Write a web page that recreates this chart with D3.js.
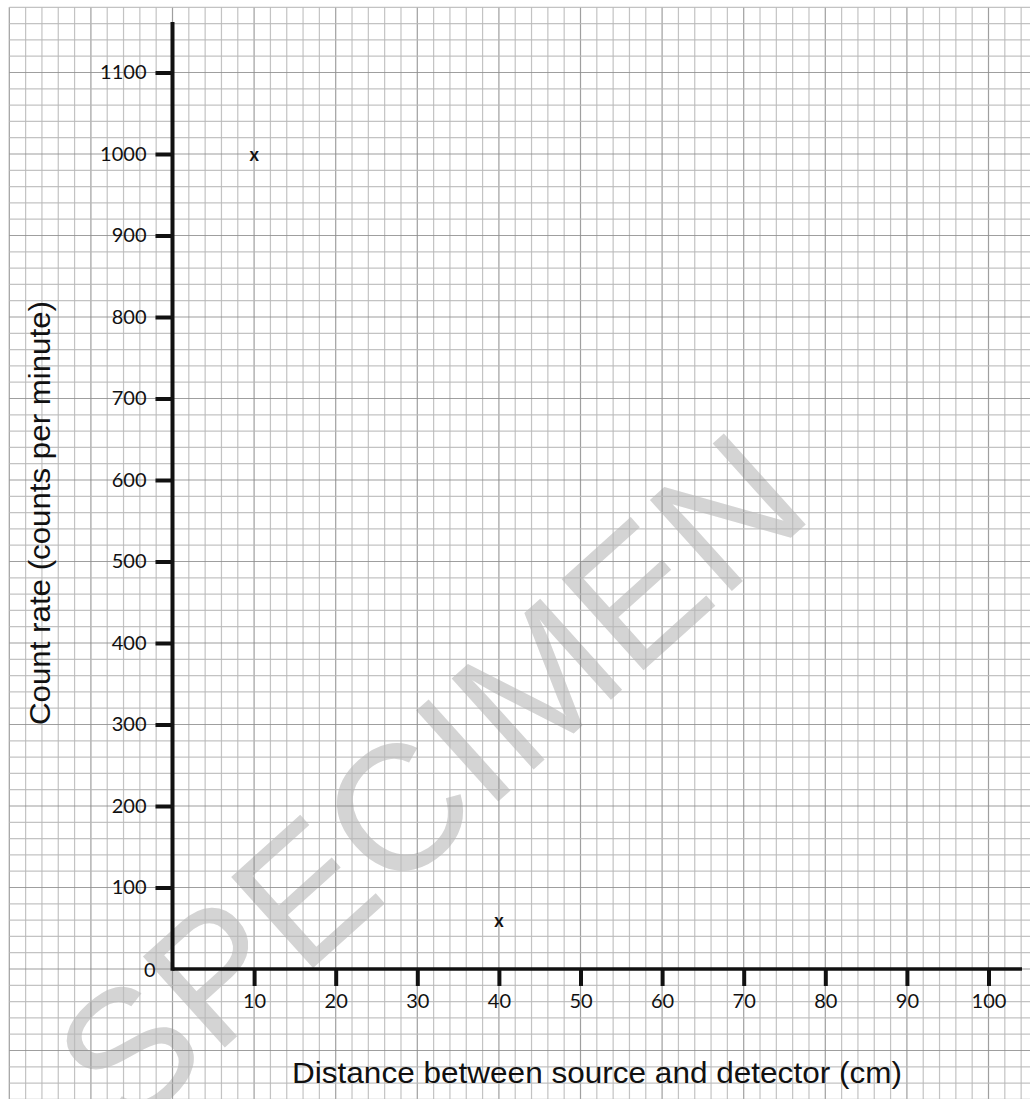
<!DOCTYPE html>
<html><head><meta charset="utf-8">
<script src="https://cdn.jsdelivr.net/npm/d3@7"></script>
<style>html,body{margin:0;padding:0;background:#fff;}svg{display:block;}</style>
</head><body>
<script>
// ---- data ----
const xTicks = [10, 20, 30, 40, 50, 60, 70, 80, 90, 100];
const yTicks = [100, 200, 300, 400, 500, 600, 700, 800, 900, 1000, 1100];
const pointX = [10, 40];
const pointY = [1000, 60];
const xTitle = "Distance between source and detector (cm)";
const yTitle = "Count rate (counts per minute)";
const watermark = "SPECIMEN";

const W = 1030, H = 1099;
const svg = d3.select("body").append("svg").attr("width", W).attr("height", H);

const x = d3.scaleLinear().domain([0, 100]).range([172.5, 988.5]);
const y = d3.scaleLinear().domain([0, 1100]).range([969, 72.5]);

// watermark
svg.append("text")
  .attr("transform", "translate(430,780) rotate(-42)")
  .attr("text-anchor", "middle")
  .attr("dominant-baseline", "central")
  .attr("font-family", "Liberation Sans, Arial, sans-serif")
  .attr("font-size", 178)
  .attr("fill", "#d4d4d4")
  .text(watermark);

// grid
const gx = d3.range(-20, 106, 2);
const gy = d3.range(-160, 1181, 20);
const grid = svg.append("g");
grid.selectAll("line.v").data(gx).join("line")
  .attr("x1", d => x(d)).attr("x2", d => x(d))
  .attr("y1", y(1180)).attr("y2", H)
  .attr("stroke", d => d % 10 === 0 ? "#8e8e8e" : "#b9b9b9")
  .attr("stroke-opacity", 0.85)
  .attr("stroke-width", 1.2);
grid.selectAll("line.h").data(gy).join("line")
  .attr("y1", d => y(d)).attr("y2", d => y(d))
  .attr("x1", x(-20)).attr("x2", W)
  .attr("stroke", d => d % 100 === 0 ? "#8e8e8e" : "#b9b9b9")
  .attr("stroke-opacity", 0.85)
  .attr("stroke-width", 1.2);

// axes
const xAxis = d3.axisBottom(x).tickValues(xTicks).tickSize(17).tickPadding(8).tickFormat(d3.format("d"));
const yAxis = d3.axisLeft(y).tickValues(yTicks).tickSize(17).tickPadding(9).tickFormat(d3.format("d"));

const gX = svg.append("g").attr("transform", `translate(0,${y(0)})`).call(xAxis);
const gY = svg.append("g").attr("transform", `translate(${x(0)},0)`).call(yAxis);
[gX, gY].forEach(g => {
  g.select(".domain").remove();
  g.selectAll(".tick line").attr("stroke", "#111").attr("stroke-width", 4);
  g.selectAll(".tick text").attr("font-family", "Lato, sans-serif").attr("font-size", 20).attr("fill", "#111");
});

// axis lines
svg.append("line").attr("x1", x(0)).attr("x2", 1022).attr("y1", y(0)).attr("y2", y(0))
  .attr("stroke", "#111").attr("stroke-width", 3.5);
svg.append("line").attr("x1", x(0)).attr("x2", x(0)).attr("y1", 22).attr("y2", y(0) + 1.75)
  .attr("stroke", "#111").attr("stroke-width", 4);

// origin label
svg.append("text").attr("x", x(0) - 17).attr("y", y(0))
  .attr("text-anchor", "end").attr("dominant-baseline", "central")
  .attr("font-family", "Lato, sans-serif").attr("font-size", 20).attr("fill", "#111").text("0");

// points
svg.selectAll("text.pt").data(pointX).join("text")
  .attr("x", (d, i) => x(d)).attr("y", (d, i) => y(pointY[i]))
  .attr("text-anchor", "middle").attr("dominant-baseline", "central")
  .attr("font-family", "Lato, sans-serif").attr("font-weight", "bold").attr("font-size", 18).attr("fill", "#111")
  .text("x");

// titles
svg.append("text").attr("x", 597).attr("y", 1083)
  .attr("text-anchor", "middle")
  .attr("font-family", "Liberation Sans, Arial, sans-serif").attr("font-size", 30).attr("fill", "#111")
  .attr("textLength", 610).attr("lengthAdjust", "spacingAndGlyphs")
  .text(xTitle);
svg.append("text").attr("transform", "translate(50,513) rotate(-90)")
  .attr("text-anchor", "middle")
  .attr("font-family", "Liberation Sans, Arial, sans-serif").attr("font-size", 30).attr("fill", "#111")
  .attr("textLength", 424).attr("lengthAdjust", "spacingAndGlyphs")
  .text(yTitle);
</script>
</body></html>
